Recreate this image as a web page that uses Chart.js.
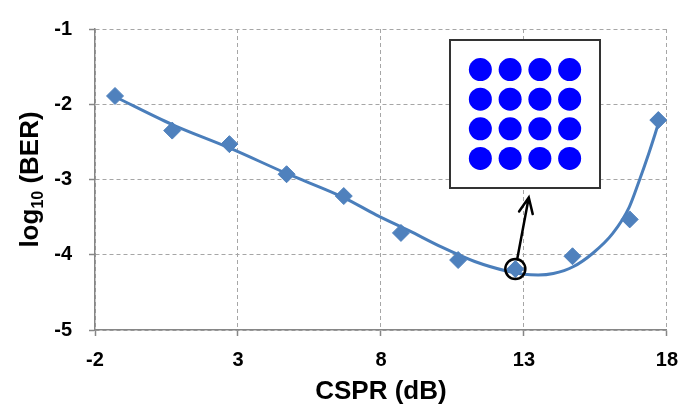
<!DOCTYPE html>
<html>
<head>
<meta charset="utf-8">
<script src="https://cdn.jsdelivr.net/npm/chart.js@4"></script>
<style>
  body { margin: 0; background: #fff; }
  #wrap { position: relative; width: 690px; height: 407px; }
  #inset {
    position: absolute; left: 449px; top: 39px;
    width: 148px; height: 146px;
    border: 2px solid #333; background: #fff;
  }
</style>
</head>
<body>
<div id="wrap">
  <canvas id="berChart" width="690" height="407"></canvas>
  <div id="inset"><canvas id="qamChart" width="148" height="146"></canvas></div>
</div>
<script>
// ---- data ----
const csprMeasured   = [-1.3, 0.7, 2.7, 4.7, 6.7, 8.7, 10.7, 12.7, 14.7, 16.7, 17.7];
const logBerMeasured = [-1.89, -2.35, -2.53, -2.93, -3.22, -3.71, -4.07, -4.19, -4.02, -3.53, -2.21];

// fitted curve
const csprFit   = [-1.3, 0.7, 2.7, 4.7, 6.7, 7.83, 8.98, 10.13, 11.28, 12.43, 13.0, 13.5, 14.03, 14.72, 15.41, 16.1, 16.68, 17.02, 17.37, 17.71];
const logBerFit = [-1.90, -2.27, -2.58, -2.92, -3.24, -3.47, -3.68, -3.90, -4.09, -4.22, -4.26, -4.27, -4.25, -4.16, -3.98, -3.72, -3.37, -3.03, -2.65, -2.25];

const xTicks = [-2, 3, 8, 13, 18];
const yTicks = [-5, -4, -3, -2, -1];

// 16-QAM constellation in the inset
const qamLevelsI = [-3, -1, 1, 3];
const qamLevelsQ = [3, 1, -1, -3];

// circled point and arrow tip (data units)
const markedPoint = { x: 12.7, y: -4.19 };
const arrowTip = { x: 13.17, y: -3.24 };

const FONT = "'Liberation Sans', Arial, sans-serif";

// draws the y title with a subscript, the circle and the arrow
const extrasPlugin = {
  id: 'extras',
  afterDatasetsDraw(chart) {
    const ctx = chart.ctx;
    const xs = chart.scales.x, ys = chart.scales.y;

    // circle round the marked point
    const cx = xs.getPixelForValue(markedPoint.x);
    const cy = ys.getPixelForValue(markedPoint.y);
    const r = 10;
    ctx.save();
    ctx.strokeStyle = '#000';
    ctx.lineWidth = 2.5;
    ctx.beginPath();
    ctx.arc(cx, cy, r, 0, Math.PI * 2);
    ctx.stroke();

    // arrow
    const tx = xs.getPixelForValue(arrowTip.x);
    const ty = ys.getPixelForValue(arrowTip.y);
    const ang = Math.atan2(ty - cy, tx - cx);
    const sx = cx + r * Math.cos(ang), sy = cy + r * Math.sin(ang);
    ctx.lineWidth = 2.5;
    ctx.lineCap = 'round';
    ctx.beginPath();
    ctx.moveTo(sx, sy);
    ctx.lineTo(tx, ty);
    const head = 17, spread = 0.42;
    ctx.moveTo(tx - head * Math.cos(ang - spread), ty - head * Math.sin(ang - spread));
    ctx.lineTo(tx, ty);
    ctx.lineTo(tx - head * Math.cos(ang + spread), ty - head * Math.sin(ang + spread));
    ctx.stroke();
    ctx.restore();

    // y axis title: log10 (BER)
    const area = chart.chartArea;
    const midY = (area.top + area.bottom) / 2;
    ctx.save();
    ctx.fillStyle = '#000';
    ctx.textBaseline = 'alphabetic';
    ctx.textAlign = 'left';
    const big = 'bold 26px ' + FONT, small = 'bold 16px ' + FONT;
    ctx.font = big;  const w1 = ctx.measureText('log').width;
    const w3 = ctx.measureText(' (BER)').width;
    ctx.font = small; const w2 = ctx.measureText('10').width;
    const total = w1 + w2 + w3;
    ctx.translate(38, midY);
    ctx.rotate(-Math.PI / 2);
    let px = -total / 2;
    ctx.font = big;  ctx.fillText('log', px, 0); px += w1;
    ctx.font = small; ctx.fillText('10', px, 5); px += w2;
    ctx.font = big;  ctx.fillText(' (BER)', px, 0);
    ctx.restore();
  }
};

const gridStyle = {
  color: '#a6a6a6',
  lineWidth: 1,
  tickLength: 6,
  tickColor: '#868686',
  tickBorderDash: [],
  tickWidth: 1.5
};
// in Chart.js v4 the grid line dash lives under "border"
const borderStyle = { display: true, color: '#868686', width: 1.5, dash: [4, 3] };

new Chart(document.getElementById('berChart'), {
  type: 'scatter',
  data: {
    datasets: [
      {
        label: 'Measured',
        data: csprMeasured.map((x, i) => ({ x: x, y: logBerMeasured[i] })),
        pointStyle: 'rectRot',
        pointRadius: 8.5,
        backgroundColor: '#4f81bd',
        borderColor: '#4f81bd',
        borderWidth: 1,
        showLine: false
      },
      {
        label: 'Fit',
        data: csprFit.map((x, i) => ({ x: x, y: logBerFit[i] })),
        showLine: true,
        borderColor: '#4a7ebb',
        borderWidth: 3,
        pointRadius: 0,
        cubicInterpolationMode: 'monotone',
        fill: false
      }
    ]
  },
  options: {
    responsive: false,
    animation: false,
    devicePixelRatio: 1,
    layout: { padding: { top: 17, right: 15, left: 0, bottom: 0 } },
    plugins: { legend: { display: false }, tooltip: { enabled: false } },
    scales: {
      x: {
        type: 'linear',
        min: -2, max: 18,
        afterBuildTicks: s => { s.ticks = xTicks.map(v => ({ value: v })); },
        afterFit: s => { s.height = 77; },
        grid: gridStyle,
        border: borderStyle,
        ticks: { color: '#000', font: { family: FONT, size: 20, weight: 'bold' }, padding: 12 },
        title: {
          display: true, text: 'CSPR (dB)', color: '#000',
          font: { family: FONT, size: 26, weight: 'bold', lineHeight: 1 },
          padding: { top: 0, bottom: 2 }
        }
      },
      y: {
        type: 'linear',
        min: -5, max: -1,
        afterBuildTicks: s => { s.ticks = yTicks.map(v => ({ value: v })); },
        afterFit: s => { s.width = 95; },
        grid: gridStyle,
        border: borderStyle,
        ticks: { color: '#000', font: { family: FONT, size: 20, weight: 'bold' }, padding: 17 }
      }
    }
  },
  plugins: [extrasPlugin]
});

// inset constellation
const qamPoints = [];
qamLevelsQ.forEach(q => qamLevelsI.forEach(i => qamPoints.push({ x: i, y: q })));

new Chart(document.getElementById('qamChart'), {
  type: 'scatter',
  data: {
    datasets: [{
      data: qamPoints,
      pointRadius: 11.5,
      backgroundColor: '#0000ff',
      borderColor: '#0000ff',
      borderWidth: 0
    }]
  },
  options: {
    responsive: false,
    animation: false,
    devicePixelRatio: 1,
    layout: { padding: 0 },
    plugins: { legend: { display: false }, tooltip: { enabled: false } },
    scales: {
      x: { display: false, min: -4.2, max: 4.2 },
      y: { display: false, min: -4.15, max: 4.15 }
    }
  }
});
</script>
</body>
</html>
